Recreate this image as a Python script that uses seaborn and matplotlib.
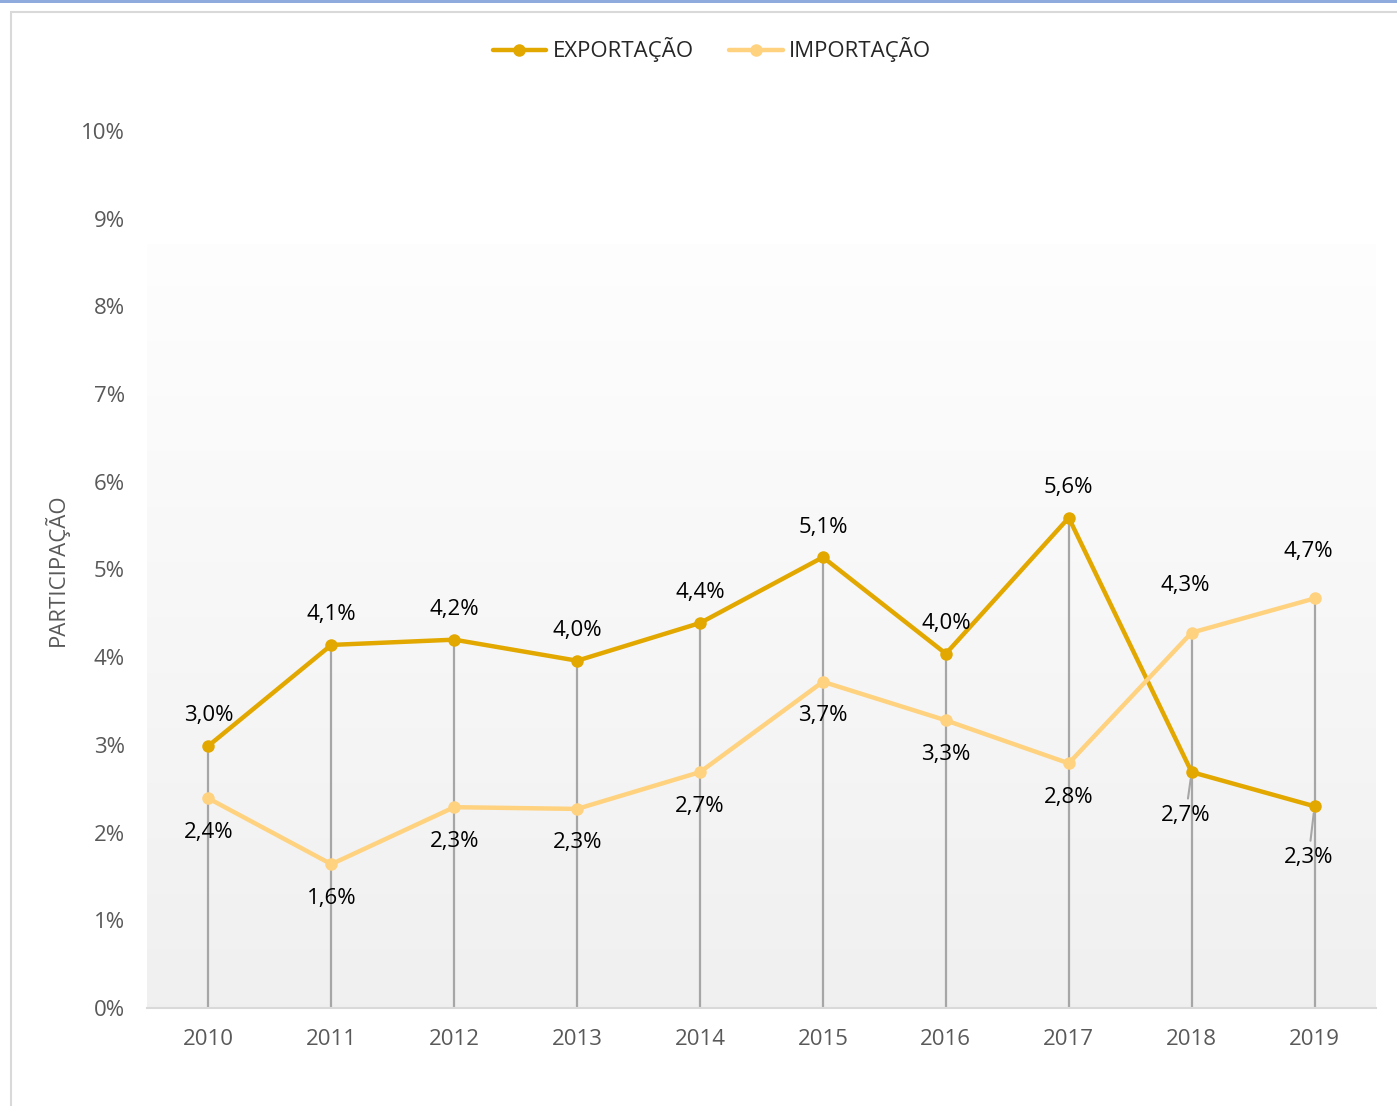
import numpy as np
import pandas as pd
import matplotlib
matplotlib.use("Agg")
import matplotlib.pyplot as plt
from matplotlib.lines import Line2D
from matplotlib.patches import Rectangle
import seaborn as sns

years = [2010, 2011, 2012, 2013, 2014, 2015, 2016, 2017, 2018, 2019]
exportacao = [2.99, 4.14, 4.20, 3.96, 4.39, 5.14, 4.04, 5.59, 2.69, 2.30]
importacao = [2.39, 1.64, 2.29, 2.27, 2.69, 3.72, 3.28, 2.79, 4.28, 4.67]
series_names = ["EXPORTAÇÃO", "IMPORTAÇÃO"]
y_ticks = [0, 1, 2, 3, 4, 5, 6, 7, 8, 9, 10]

C_EXP = "#E2A800"
C_IMP = "#FFD27F"
GRAY_TXT = "#595959"
FS = 16

sns.set_theme(style="white")
plt.rcParams["font.family"] = ["Open Sans", "DejaVu Sans"]

df = pd.DataFrame({
    "ano": years * 2,
    "valor": exportacao + importacao,
    "serie": [series_names[0]] * len(years) + [series_names[1]] * len(years),
})

fig = plt.figure(figsize=(13.97, 11.06), dpi=100)
W, H = 1397, 1106
ax = fig.add_axes([147 / W, 1 - 1008 / H, (1376 - 147) / W, (1008 - 131) / H])

# outer frame and top blue line
fig.patches.append(Rectangle((11 / W, -0.01), 1.0, 1 - 12 / H + 0.01, transform=fig.transFigure,
                             fill=False, edgecolor="#d9d9d9", linewidth=1.5, zorder=0))
fig.patches.append(Rectangle((0, 1 - 3 / H), 1.0, 3 / H, transform=fig.transFigure,
                             facecolor="#8FAADC", edgecolor="none", zorder=0))

# gradient background of plot area
top_val = (1008 - 245) / 87.7
grad = np.linspace(0, 1, 256).reshape(-1, 1)
c_top = np.array([0.995, 0.995, 0.995])
c_bot = np.array([0.941, 0.941, 0.941])
img = (c_bot + (c_top - c_bot) * grad).reshape(256, 1, 3)
ax.imshow(img, extent=[2009.5, 2019.5, 0, top_val], origin="lower", aspect="auto", zorder=0)
ax.set_xlim(2009.5, 2019.5)
ax.set_ylim(0, 10)

# drop lines
tops = [max(a, b) for a, b in zip(exportacao, importacao)]
ax.vlines(years, 0, tops, color="#a6a6a6", linewidth=1.6, zorder=1)

sns.lineplot(data=df, x="ano", y="valor", hue="serie", palette=[C_EXP, C_IMP],
             marker="o", markersize=9, markeredgewidth=0, linewidth=3.2,
             legend=False, ax=ax, zorder=3)
ax.set_xlim(2009.5, 2019.5)
ax.set_ylim(0, 10)

# data labels
def fmt(v):
    return f"{v:.1f}".replace(".", ",") + "%"

for i, (yr, e, m) in enumerate(zip(years, exportacao, importacao)):
    if i < 8:
        ax.annotate(fmt(e), (yr, e), xytext=(0, 30), textcoords="offset pixels",
                    ha="center", va="center", fontsize=FS, color="black", zorder=5)
        ax.annotate(fmt(m), (yr, m), xytext=(0, -34), textcoords="offset pixels",
                    ha="center", va="center", fontsize=FS, color="black", zorder=5)
    else:
        ax.annotate(fmt(m), (yr, m), xytext=(-6, 47), textcoords="offset pixels",
                    ha="center", va="center", fontsize=FS, color="black", zorder=5)
        dy = -43 if i == 8 else -51
        ax.annotate(fmt(e), (yr, e), xytext=(-6, dy), textcoords="offset pixels",
                    ha="center", va="center", fontsize=FS, color="black", zorder=5,
                    arrowprops=dict(arrowstyle="-", color="#a6a6a6", lw=1.5,
                                    shrinkA=2, shrinkB=5))

# axes styling
for s in ["top", "right", "left"]:
    ax.spines[s].set_visible(False)
ax.spines["bottom"].set_color("#d9d9d9")
ax.spines["bottom"].set_linewidth(1.5)
ax.spines["bottom"].set_zorder(2)

ax.set_xticks(years)
ax.set_xticklabels([str(y) for y in years], fontsize=FS, color=GRAY_TXT)
ax.set_xticks(np.arange(2009.5, 2020.0, 1.0), minor=True)
ax.tick_params(axis="x", which="major", length=0, pad=15)
ax.tick_params(axis="x", which="minor", length=7, width=1.5, color="#d9d9d9", direction="out")
ax.set_yticks(y_ticks)
ax.set_yticklabels([f"{t}%" for t in y_ticks], fontsize=FS, color=GRAY_TXT)
ax.tick_params(axis="y", length=0, pad=16)
ax.set_xlabel("")
ax.set_ylabel("PARTICIPAÇÃO", fontsize=FS, color=GRAY_TXT, labelpad=9)
ax.grid(False)

handles = [Line2D([0], [0], color=C_EXP, lw=3.2, marker="o", markersize=9, markeredgewidth=0),
           Line2D([0], [0], color=C_IMP, lw=3.2, marker="o", markersize=9, markeredgewidth=0)]
fig.legend(handles, series_names, loc="center", bbox_to_anchor=(712 / W, 1 - 50 / H),
           ncol=2, frameon=False, fontsize=FS, handlelength=2.4, handletextpad=0.3,
           columnspacing=1.6)

fig.savefig("out.png", dpi=100, facecolor="white")
